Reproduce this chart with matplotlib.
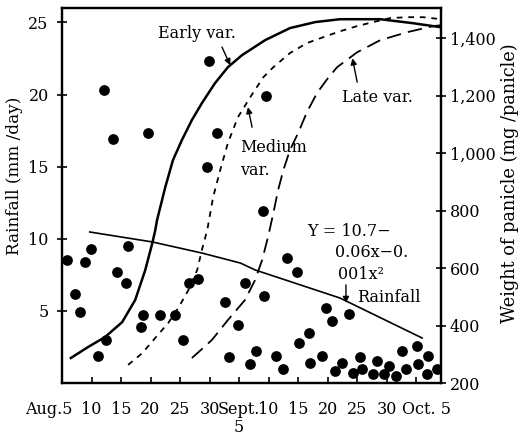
import matplotlib
matplotlib.use("Agg")
import matplotlib.pyplot as plt
import matplotlib.transforms as mtransforms

plt.rcParams['font.family'] = ['DejaVu Serif']

# ---- data ----
tick_pos = [0, 5, 10, 15, 20, 25, 30, 35, 40, 45, 50, 55, 60]
tick_labels = ["Aug.5", "10", "15", "20", "25", "30", "Sept.\n5", "10", "15", "20", "25", "30", "Oct. 5"]

rain_day = [0.9, 2.2, 3.1, 3.9, 4.9, 6.1, 7.1, 7.5, 8.6, 9.3, 10.9, 11.2, 13.4, 13.7, 14.6,
            16.6, 19.2, 20.5, 21.5, 23.1, 24.6, 24.9, 26.3, 27.6, 28.3, 29.8, 31.0, 31.9,
            32.9, 34.1, 34.2, 34.6, 36.3, 37.5, 38.1, 39.8, 40.2, 41.9, 42.0, 44.1, 44.8,
            45.8, 46.3, 47.5, 48.6, 49.3, 50.5, 50.9, 52.7, 53.4, 54.6, 55.4, 56.6, 57.6,
            58.3, 60.2, 60.3, 61.9, 62.0, 63.6]
rain_mm = [8.5, 6.2, 4.9, 8.4, 9.3, 1.9, 20.3, 3.0, 16.9, 7.7, 6.9, 9.5, 3.9, 4.7, 17.3,
           4.7, 4.7, 3.0, 6.9, 7.2, 15.0, 22.3, 17.3, 5.6, 1.8, 4.0, 6.9, 1.3,
           2.2, 11.9, 6.0, 19.9, 1.9, 1.0, 8.7, 7.7, 2.8, 3.5, 1.4, 1.9, 5.2,
           4.3, 0.8, 1.4, 4.8, 0.7, 1.8, 1.0, 0.6, 1.5, 0.6, 1.2, 0.5, 2.2,
           1.0, 2.6, 1.3, 0.6, 1.9, 1.0]

rain_fit_day = [4.7, 15.3, 23.7, 30.2, 32.7, 47.1, 61.0]
rain_fit_mm = [10.47, 9.78, 9.01, 8.32, 7.84, 5.89, 3.12]

early_day = [1.5, 4.4, 7.3, 10.2, 12.4, 14.1, 15.3, 15.8, 16.1, 17.5, 18.8, 20.3, 22.0, 23.7,
             25.9, 28.1, 30.5, 34.4, 38.6, 42.9, 47.1, 53.9, 59.5, 64.2]
early_wt = [287, 325, 360, 412, 489, 593, 687, 732, 767, 882, 976, 1045, 1115, 1174,
            1243, 1299, 1341, 1393, 1435, 1456, 1466, 1466, 1452, 1438]

medium_day = [11.2, 13.6, 15.8, 18.0, 19.7, 21.4, 22.9, 23.7, 24.6, 25.6, 26.8, 28.1, 29.8,
              31.9, 34.1, 35.8, 38.6, 41.5, 44.2, 47.1, 50.0, 52.7, 55.6, 58.5, 61.2, 64.2]
medium_wt = [263, 304, 357, 409, 461, 523, 593, 663, 732, 847, 941, 1035, 1125,
             1195, 1264, 1299, 1348, 1383, 1403, 1424, 1442, 1456, 1470, 1473, 1473, 1466]

late_day = [22.0, 23.7, 25.4, 28.1, 31.0, 32.7, 33.9, 34.9, 35.8, 36.6, 37.5, 38.6, 40.0,
            41.5, 43.2, 44.9, 46.6, 50.0, 53.9, 58.5, 62.9, 64.2]
late_wt = [287, 318, 350, 419, 489, 558, 628, 708, 791, 871, 941, 1010, 1070,
           1143, 1209, 1257, 1299, 1351, 1393, 1421, 1442, 1445]

# ---- figure ----
W, H = 525, 441
fig = plt.figure(figsize=(W / 100, H / 100), dpi=100)
ax = fig.add_axes([62 / W, (H - 383) / H, (441 - 62) / W, (383 - 8) / H])
ax2 = ax.twinx()

ax.set_xlim(0, 64.2)
ax.set_ylim(0, 26)
ax2.set_ylim(200, 1505)

fs = 11.5
ax.scatter(rain_day, rain_mm, s=60, color='black', zorder=3, linewidths=0)
ax.plot(rain_fit_day, rain_fit_mm, color='black', lw=1.2)

ax2.plot(early_day, early_wt, color='black', lw=1.8, solid_joinstyle='round')
ax2.plot(medium_day, medium_wt, color='black', lw=1.3, dashes=(3.2, 3.2))
ax2.plot(late_day, late_wt, color='black', lw=1.3, dashes=(8, 4))

for s in ['left', 'right', 'top', 'bottom']:
    ax.spines[s].set_linewidth(1.6)
    ax2.spines[s].set_linewidth(1.6)

ax.set_xticks(tick_pos)
ax.set_xticklabels(tick_labels, fontsize=fs, linespacing=1.05, va='top')
ax.tick_params(axis='x', direction='in', length=4, width=1.2, pad=13)
ax.set_yticks([5, 10, 15, 20, 25])
ax.tick_params(axis='y', direction='inout', length=7, width=1.2, labelsize=fs, pad=6)
ax2.set_yticks([200, 400, 600, 800, 1000, 1200, 1400])
ax2.set_yticklabels(["200", "400", "600", "800", "1,000", "1,200", "1,400"])
ax2.tick_params(axis='y', direction='inout', length=7, width=1.2, labelsize=fs, pad=3)

xl = ax.get_xticklabels()
xl[0].set_transform(xl[0].get_transform() + mtransforms.ScaledTranslation(-0.13, 0, fig.dpi_scale_trans))
xl[-1].set_transform(xl[-1].get_transform() + mtransforms.ScaledTranslation(0.10, 0, fig.dpi_scale_trans))

fig.text(15 / W, 1 - 176 / H, "Rainfall (mm /day)", rotation=90, ha='center', va='center', fontsize=12.2)
fig.text(510 / W, 1 - 183 / H, "Weight of panicle (mg /panicle)", rotation=90, ha='center', va='center', fontsize=12.8)

arrow = dict(arrowstyle='-|>', color='black', lw=1.0, mutation_scale=9, shrinkA=0, shrinkB=0)

ax2.text(22.9, 1417, "Early var.", ha='center', va='center', fontsize=fs)
ax2.annotate("", xy=(28.5, 1306), xytext=(27.1, 1369), arrowprops=arrow)

ax2.text(30.2, 1021, "Medium", ha='left', va='center', fontsize=fs)
ax2.text(30.2, 941, "var.", ha='left', va='center', fontsize=fs)
ax2.annotate("", xy=(31.5, 1160), xytext=(32.2, 1090), arrowprops=arrow)

ax2.text(53.4, 1195, "Late var.", ha='center', va='center', fontsize=fs)
ax2.annotate("", xy=(49.2, 1330), xytext=(50.0, 1247), arrowprops=arrow)

ax.text(48.6, 10.47, "Y = 10.7\u2212", ha='center', va='center', fontsize=fs)
ax.text(52.5, 9.02, "0.06x\u22120.", ha='center', va='center', fontsize=fs)
ax.text(50.7, 7.49, "001x\u00b2", ha='center', va='center', fontsize=fs)
ax.text(50.0, 5.96, "Rainfall", ha='left', va='center', fontsize=fs)
ax.annotate("", xy=(48.1, 5.55), xytext=(48.1, 6.80), arrowprops=arrow)

fig.savefig("out.png", dpi=100)
